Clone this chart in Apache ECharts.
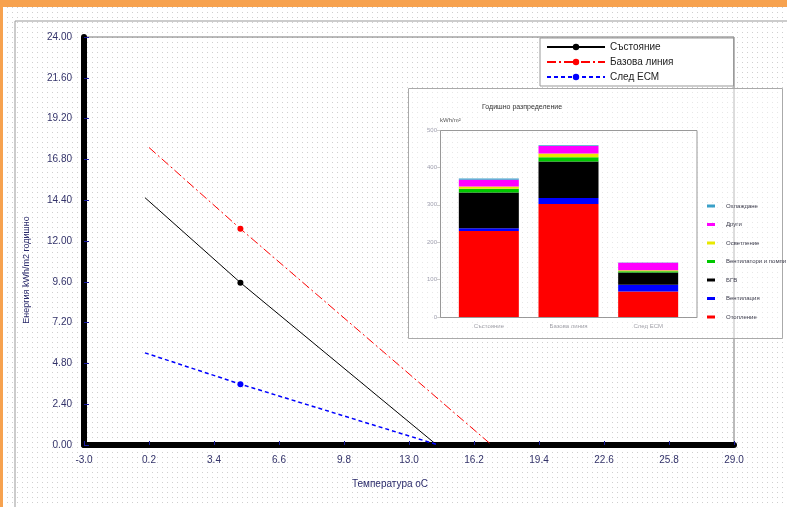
<!DOCTYPE html>
<html><head><meta charset="utf-8">
<script src="https://cdn.jsdelivr.net/npm/echarts@6/dist/echarts.min.js"></script>
<style>
html,body{margin:0;padding:0;}
body{width:787px;height:507px;overflow:hidden;position:relative;background-color:#fff;
background-image:radial-gradient(circle,#cfcfcf 0.8px,transparent 1px);background-size:5px 5px;}
#c{position:absolute;left:0;top:0;width:787px;height:507px;}
.o1{position:absolute;left:0;top:0;width:787px;height:7px;background:#f7a24f;}
.o2{position:absolute;left:0;top:0;width:3px;height:507px;background:#f7a24f;}
</style></head>
<body>
<div class="o1"></div><div class="o2"></div>
<div id="c"></div>
<script>
// ---- main chart data ----
var lineNames = ['Състояние', 'Базова линия', 'След ЕСМ'];
var sastoyanie = [[0, 14.55], [4.7, 9.55], [14.37, 0]];
var bazova = [[0.2, 17.5], [4.7, 12.72], [17.07, 0]];
var sledEsm = [[0, 5.42], [4.7, 3.58], [14.45, 0]];
var xTicks = {min: -3.0, max: 29.0, interval: 3.2};
var yTicks = {min: 0, max: 24, interval: 2.4};

// ---- inset data ----
var insetCategories = ['Състояние', 'Базова линия', 'След ЕСМ'];
var insetSeriesNames = ['Отопление', 'Вентилация', 'БГВ', 'Вентилатори и помпи', 'Осветление', 'Други', 'Охлаждане'];
var otoplenie = [230, 302, 68];
var ventilacia = [7, 16, 18];
var bgv = [96, 98, 33];
var ventilatori = [10, 11, 3];
var osvetlenie = [6, 10, 3];
var drugi = [18, 20, 20];
var ohlazhdane = [3, 2, 1];
var insetY = {min: 0, max: 500, interval: 100};

var insetValues = [otoplenie, ventilacia, bgv, ventilatori, osvetlenie, drugi, ohlazhdane];
var insetColors = ['#ff0000', '#0000ff', '#000000', '#00c800', '#e8e800', '#ff00ff', '#3aa0c8'];

function markData(arr) {
  return arr.map(function (p, i) {
    return i === 1 ? {value: p} : {value: p, symbol: 'none'};
  });
}

var font = 'Liberation Sans, Arial, sans-serif';
var labCol = '#33336a';

var series = [
  {name: lineNames[0], type: 'line', xAxisIndex: 0, yAxisIndex: 0, data: markData(sastoyanie),
   symbol: 'circle', symbolSize: 6, color: '#000', lineStyle: {color: '#000', width: 1}, itemStyle: {color: '#000'}, z: 5},
  {name: lineNames[1], type: 'line', xAxisIndex: 0, yAxisIndex: 0, data: markData(bazova),
   symbol: 'circle', symbolSize: 6, color: '#ff0000', lineStyle: {color: '#ff0000', width: 1, type: [9, 3, 2, 3]}, itemStyle: {color: '#ff0000'}, z: 5},
  {name: lineNames[2], type: 'line', xAxisIndex: 0, yAxisIndex: 0, data: markData(sledEsm),
   symbol: 'circle', symbolSize: 6, color: '#0000ff', lineStyle: {color: '#0000ff', width: 1.5, type: [4, 3]}, itemStyle: {color: '#0000ff'}, z: 5}
];
insetSeriesNames.forEach(function (n, i) {
  series.push({name: n, type: 'bar', stack: 'e', xAxisIndex: 1, yAxisIndex: 1, data: insetValues[i],
    barWidth: 60, itemStyle: {color: insetColors[i]}, z: 3});
});

var chart = echarts.init(document.getElementById('c'), null, {renderer: 'canvas'});
chart.setOption({
  animation: false,
  backgroundColor: 'transparent',
  grid: [
    {left: 84, right: 53, top: 37, bottom: 62, show: true, borderColor: '#777', borderWidth: 1, backgroundColor: 'transparent'},
    {left: 449, right: 99, top: 130, bottom: 190}
  ],
  xAxis: [
    {type: 'value', gridIndex: 0, min: xTicks.min, max: xTicks.max, interval: xTicks.interval,
     axisLine: {show: true, onZero: false, lineStyle: {color: '#000', width: 6}},
     axisTick: {show: true, inside: true, length: 4, lineStyle: {color: '#1a1aa0', width: 1}},
     axisLabel: {color: labCol, fontFamily: font, fontSize: 10, margin: 10, formatter: function (v) { return v.toFixed(1); }},
     splitLine: {show: false}},
    {type: 'category', gridIndex: 1, data: insetCategories,
     axisLine: {show: false}, axisTick: {show: false},
     axisLabel: {color: '#3a3a4a', fontFamily: font, fontSize: 6, margin: 6}}
  ],
  yAxis: [
    {type: 'value', gridIndex: 0, min: yTicks.min, max: yTicks.max, interval: yTicks.interval,
     axisLine: {show: true, onZero: false, lineStyle: {color: '#000', width: 6}},
     axisTick: {show: true, inside: true, length: 5, lineStyle: {color: '#1a1aa0', width: 1}},
     axisLabel: {color: labCol, fontFamily: font, fontSize: 10, margin: 12, formatter: function (v) { return v.toFixed(2); }},
     splitLine: {show: false}},
    {type: 'value', gridIndex: 1, min: insetY.min, max: insetY.max, interval: insetY.interval, offset: 8,
     axisLine: {show: false},
     axisTick: {show: true, length: 4, lineStyle: {color: '#999'}},
     axisLabel: {color: '#3a3a5a', fontFamily: font, fontSize: 6, margin: 4},
     splitLine: {show: false}}
  ],
  legend: [
    {data: lineNames, orient: 'vertical', left: 540, top: 38, width: 193,
     backgroundColor: '#fff', borderColor: '#999', borderWidth: 1, padding: [4, 60, 4, 6],
     itemWidth: 58, itemHeight: 8, itemGap: 5,
     textStyle: {fontFamily: font, fontSize: 10, color: '#222'}},
    {data: insetSeriesNames.slice().reverse(), orient: 'vertical', left: 702, top: 198,
     itemWidth: 8, itemHeight: 3, itemGap: 12.5, icon: 'rect',
     textStyle: {fontFamily: font, fontSize: 6, color: '#3a3a4a', padding: [0, 0, 0, 6]}}
  ],
  graphic: [
    {type: 'line', shape: {x1: 15, y1: 21, x2: 787, y2: 21}, style: {stroke: '#999', lineWidth: 1}, silent: true},
    {type: 'line', shape: {x1: 15, y1: 21, x2: 15, y2: 507}, style: {stroke: '#999', lineWidth: 1}, silent: true},
    {type: 'rect', shape: {x: 408.5, y: 88.5, width: 374, height: 250}, style: {fill: 'rgba(255,255,255,0.5)', stroke: '#aaa', lineWidth: 1}, z: 1, silent: true},
    {type: 'rect', shape: {x: 440.5, y: 130.5, width: 256.5, height: 187}, style: {fill: 'none', stroke: '#999', lineWidth: 1}, z: 10, silent: true},
    {type: 'text', left: 482, top: 104, style: {text: 'Годишно разпределение', font: '7px ' + font, fill: '#333'}, z: 10},
    {type: 'text', left: 440, top: 117, style: {text: 'kWh/m²', font: '6px ' + font, fill: '#555'}, z: 10},
    {type: 'text', x: 27, y: 270, rotation: Math.PI / 2, style: {text: 'Енергия kWh/m2 годишно', font: '9px ' + font, fill: '#2a2a6a', textAlign: 'center', textVerticalAlign: 'middle'}, z: 10},
    {type: 'text', x: 390, y: 484, style: {text: 'Температура оС', font: '10px ' + font, fill: '#2a2a6a', textAlign: 'center', textVerticalAlign: 'middle'}, z: 10}
  ],
  series: series
});
</script>
</body></html>
